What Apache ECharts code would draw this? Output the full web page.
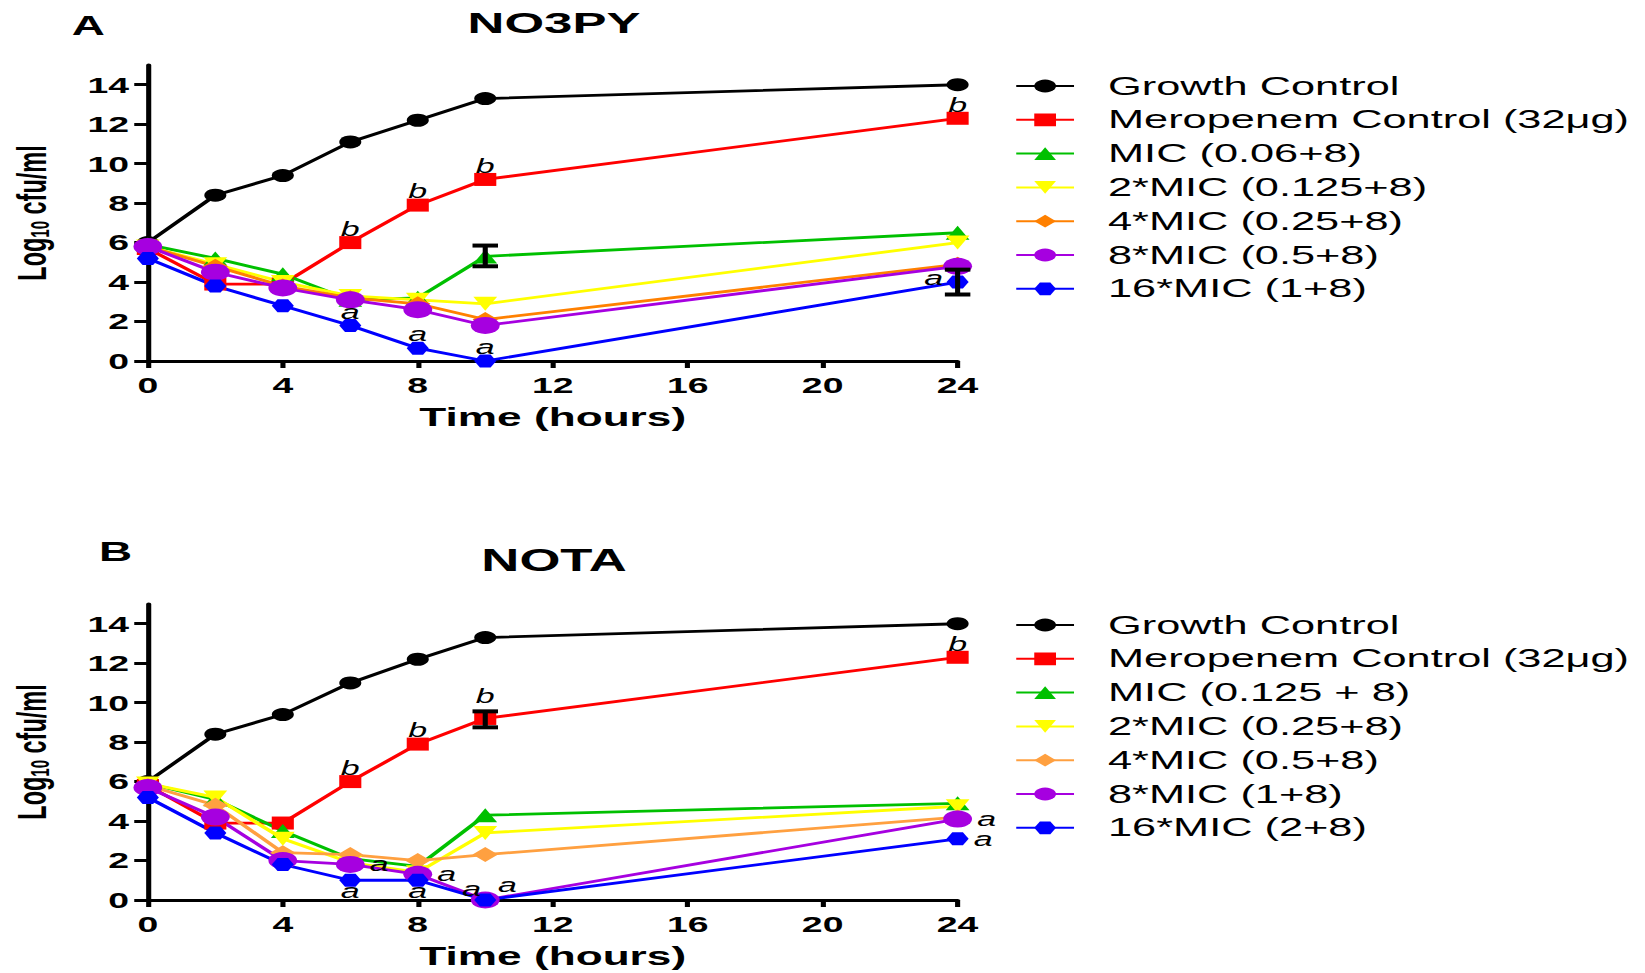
<!DOCTYPE html>
<html>
<head>
<meta charset="utf-8">
<script src="https://cdn.jsdelivr.net/npm/echarts@6/dist/echarts.min.js"></script>
<style>
  html, body { margin: 0; padding: 0; background: #fff; overflow: hidden; }
  /* the source figure is stretched sideways, so draw narrow and widen it */
  #chart { width: 968px; height: 973px; transform: scaleX(1.6994); transform-origin: 0 0; }
</style>
</head>
<body>
<div id="chart"></div>
<script>
// === Data
const HOURS = [0, 2, 4, 6, 8, 10, 24];
const X_TICKS = [0, 4, 8, 12, 16, 20, 24];
const Y_TICKS = [0, 2, 4, 6, 8, 10, 12, 14];

const NAMES_A = ['Growth Control', 'Meropenem Control (32μg)', 'MIC (0.06+8)', '2*MIC (0.125+8)',
    '4*MIC (0.25+8)', '8*MIC (0.5+8)', '16*MIC (1+8)'];
const NAMES_B = ['Growth Control', 'Meropenem Control (32μg)', 'MIC (0.125 + 8)', '2*MIC (0.25+8)',
    '4*MIC (0.5+8)', '8*MIC (1+8)', '16*MIC (2+8)'];

// panel A - NO3PY
const growthA = [6.0, 8.4, 9.4, 11.1, 12.2, 13.3, 14.0];
const meroA   = [5.7, 3.9, 3.9, 6.0, 7.9, 9.2, 12.3];
const mic1A   = [5.9, 5.2, 4.4, 3.1, 3.2, 5.3, 6.5];
const mic2A   = [5.8, 4.9, 4.0, 3.3, 3.1, 2.9, 6.0];
const mic4A   = [5.8, 4.8, 3.8, 3.2, 2.9, 2.1, 4.9];
const mic8A   = [5.8, 4.5, 3.7, 3.1, 2.6, 1.8, 4.8];
const mic16A  = [5.2, 3.8, 2.8, 1.8, 0.65, 0, 4.0];
const sigMeroA  = ['', '', '', 'b', 'b', 'b', 'b'];
const sigMic16A = ['', '', '', 'a', 'a', 'a', 'a'];
const errA = [[10, 4.8, 5.85], [24, 3.37, 4.63]];

// panel B - NOTA
const growthB = [6.0, 8.4, 9.4, 11.0, 12.2, 13.3, 14.0];
const meroB   = [5.8, 3.9, 3.9, 6.0, 7.9, 9.2, 12.3];
const mic1B   = [5.9, 5.1, 3.5, 2.1, 1.7, 4.3, 4.9];
const mic2B   = [5.9, 5.2, 3.1, 1.9, 1.4, 3.4, 4.75];
const mic4B   = [5.8, 4.8, 2.4, 2.3, 2.0, 2.3, 4.2];
const mic8B   = [5.7, 4.2, 2.0, 1.8, 1.3, 0, 4.1];
const mic16B  = [5.2, 3.4, 1.8, 1.0, 1.0, 0, 3.1];
const sigMeroB  = ['', '', '', 'b', 'b', 'b', 'b'];
const sigMic8B  = ['', '', '', 'a', 'a', 'a', 'a'];
const sigMic16B = ['', '', '', 'a', 'a', 'a', 'a'];
const errB = [[10, 8.75, 9.56]];

// === Styles
const FONT = '"Liberation Sans", Arial, sans-serif';
const TRI_DOWN = 'path://M0,0 L10,0 L5,10 Z';
const HEX = 'path://M0,5 L2.6,0.6 L7.4,0.6 L10,5 L7.4,9.4 L2.6,9.4 Z';

const LOOKS = [
    { color: '#000000', symbol: 'circle', size: 13 },
    { color: '#FF0000', symbol: 'rect', size: 13 },
    { color: '#00C000', symbol: 'triangle', size: 14 },
    { color: '#FFFF00', symbol: TRI_DOWN, size: 14 },
    { color: '#FF8000', symbol: 'diamond', size: 15 },
    { color: '#A600E0', symbol: 'circle', size: 17 },
    { color: '#0000FF', symbol: HEX, size: 13 }
];

// where the significance letters sit, per point
const POS = {
    top: { position: 'top', distance: -3 },
    topFar: { position: 'top', distance: 6 },
    left: { position: 'left', distance: 2, offset: [0, -4] },
    right: { position: 'right', distance: 3 },
    bottom: { position: 'bottom', distance: -6 },
    topLeft: { position: 'top', distance: -6, offset: [-8, 0] },
    topRight: { position: 'top', distance: -4, offset: [13, 0] }
};
const posMeroA  = ['top', 'top', 'top', 'top', 'top', 'top', 'top'];
const posMic16A = ['top', 'top', 'top', 'top', 'top', 'top', 'left'];
const posMeroB  = ['top', 'top', 'top', 'top', 'top', 'topFar', 'top'];
const posMic8B  = ['right', 'right', 'right', 'right', 'right', 'topRight', 'right'];
const posMic16B = ['bottom', 'bottom', 'bottom', 'bottom', 'bottom', 'topLeft', 'right'];

function buildData(values, sig, pos) {
    return values.map((v, i) => {
        const item = { value: [HOURS[i], v] };
        if (sig && sig[i]) {
            item.label = Object.assign({
                show: true,
                formatter: sig[i],
                fontFamily: FONT,
                fontStyle: 'italic',
                fontSize: 20,
                color: '#000'
            }, POS[pos[i]]);
        }
        return item;
    });
}

function lineSeries(name, values, look, gridIdx, sig, pos) {
    return {
        name: name,
        type: 'line',
        xAxisIndex: gridIdx,
        yAxisIndex: gridIdx,
        data: buildData(values, sig, pos),
        symbol: look.symbol,
        symbolSize: look.size,
        clip: false,
        color: look.color,
        lineStyle: { color: look.color, width: 2.8 },
        itemStyle: { color: look.color },
        emphasis: { disabled: true }
    };
}

function renderErr(params, api) {
    const x = api.value(0);
    const lo = api.coord([x, api.value(1)]);
    const hi = api.coord([x, api.value(2)]);
    const w = 7.5;
    return {
        type: 'group',
        children: [
            { type: 'line', shape: { x1: lo[0], y1: lo[1], x2: hi[0], y2: hi[1] }, style: { stroke: '#000', lineWidth: 3 } },
            { type: 'line', shape: { x1: lo[0] - w, y1: lo[1], x2: lo[0] + w, y2: lo[1] }, style: { stroke: '#000', lineWidth: 4 } },
            { type: 'line', shape: { x1: hi[0] - w, y1: hi[1], x2: hi[0] + w, y2: hi[1] }, style: { stroke: '#000', lineWidth: 4 } }
        ]
    };
}

function errSeries(name, data, gridIdx) {
    return {
        name: name,
        type: 'custom',
        xAxisIndex: gridIdx,
        yAxisIndex: gridIdx,
        data: data,
        encode: { x: 0, y: [1, 2] },
        renderItem: renderErr,
        clip: false,
        z: 5,
        silent: true
    };
}

function xAxis(gridIdx) {
    return {
        type: 'value',
        gridIndex: gridIdx,
        min: 0,
        max: 24,
        interval: 4,
        name: 'Time (hours)',
        nameLocation: 'middle',
        nameGap: 43,
        nameTextStyle: { fontFamily: FONT, fontWeight: 'bold', fontSize: 26, color: '#000' },
        splitLine: { show: false },
        axisLine: { lineStyle: { color: '#000', width: 3 } },
        axisTick: { length: 7, lineStyle: { color: '#000', width: 3 } },
        axisLabel: { customValues: X_TICKS, margin: 13, fontFamily: FONT, fontWeight: 'bold', fontSize: 22, color: '#000' }
    };
}

function yAxis(gridIdx) {
    return {
        type: 'value',
        gridIndex: gridIdx,
        min: 0,
        max: 15,
        name: '{a|Log}{s|10}{a| cfu/ml}',
        nameLocation: 'middle',
        nameGap: 56,
        nameTextStyle: {
            rich: {
                a: { fontFamily: FONT, fontWeight: 'bold', fontSize: 23.5, color: '#000', lineHeight: 24, verticalAlign: 'top' },
                s: { fontFamily: FONT, fontWeight: 'bold', fontSize: 15, color: '#000', lineHeight: 15, padding: [15, 0, 0, 0], verticalAlign: 'bottom' }
            }
        },
        splitLine: { show: false },
        axisLine: { lineStyle: { color: '#000', width: 3 } },
        axisTick: { length: 8, customValues: Y_TICKS, lineStyle: { color: '#000', width: 3 } },
        axisLabel: { customValues: Y_TICKS, margin: 11, fontFamily: FONT, fontWeight: 'bold', fontSize: 22, color: '#000' }
    };
}

function legend(names, top) {
    return {
        data: names,
        orient: 'vertical',
        left: 592,
        top: top,
        itemWidth: 34,
        itemHeight: 16,
        itemGap: 7.8,
        selectedMode: false,
        textStyle: { fontFamily: FONT, fontSize: 25.5, color: '#000', lineHeight: 25, padding: [0, 0, 0, 15] }
    };
}

function titleText(text, left, top, size) {
    return {
        text: text,
        left: left,
        top: top,
        textAlign: 'center',
        textStyle: { fontFamily: FONT, fontWeight: 'bold', fontSize: size, color: '#000' }
    };
}

// === Series
const valuesA = [growthA, meroA, mic1A, mic2A, mic4A, mic8A, mic16A];
const valuesB = [growthB, meroB, mic1B, mic2B, mic4B, mic8B, mic16B];

const series = [];
valuesA.forEach((vals, i) => {
    let sig = null, pos = null;
    if (i === 1) { sig = sigMeroA; pos = posMeroA; }
    if (i === 6) { sig = sigMic16A; pos = posMic16A; }
    series.push(lineSeries(NAMES_A[i], vals, LOOKS[i], 0, sig, pos));
});
series.push(errSeries('errA', errA, 0));

valuesB.forEach((vals, i) => {
    let sig = null, pos = null;
    if (i === 1) { sig = sigMeroB; pos = posMeroB; }
    if (i === 5) { sig = sigMic8B; pos = posMic8B; }
    if (i === 6) { sig = sigMic16B; pos = posMic16B; }
    const s = lineSeries(NAMES_B[i], vals, LOOKS[i], 1, sig, pos);
    if (i === 4) { s.color = '#FFA040'; s.lineStyle.color = '#FFA040'; s.itemStyle.color = '#FFA040'; }
    series.push(s);
});
series.push(errSeries('errB', errB, 1));

// === Chart
const chart = echarts.init(document.getElementById('chart'), null, { renderer: 'svg' });
chart.setOption({
    animation: false,
    backgroundColor: '#fff',
    title: [
        titleText('A', 47, 7, 27),
        titleText('NO3PY', 321, 3, 30),
        titleText('B', 63, 533, 27),
        titleText('NOTA', 321, 540, 31)
    ],
    legend: [legend(NAMES_A, 68), legend(NAMES_B, 607)],
    grid: [
        { left: 86.5, top: 65, width: 477, height: 296 },
        { left: 86.5, top: 604, width: 477, height: 296 }
    ],
    xAxis: [xAxis(0), xAxis(1)],
    yAxis: [yAxis(0), yAxis(1)],
    series: series
});
</script>
</body>
</html>
